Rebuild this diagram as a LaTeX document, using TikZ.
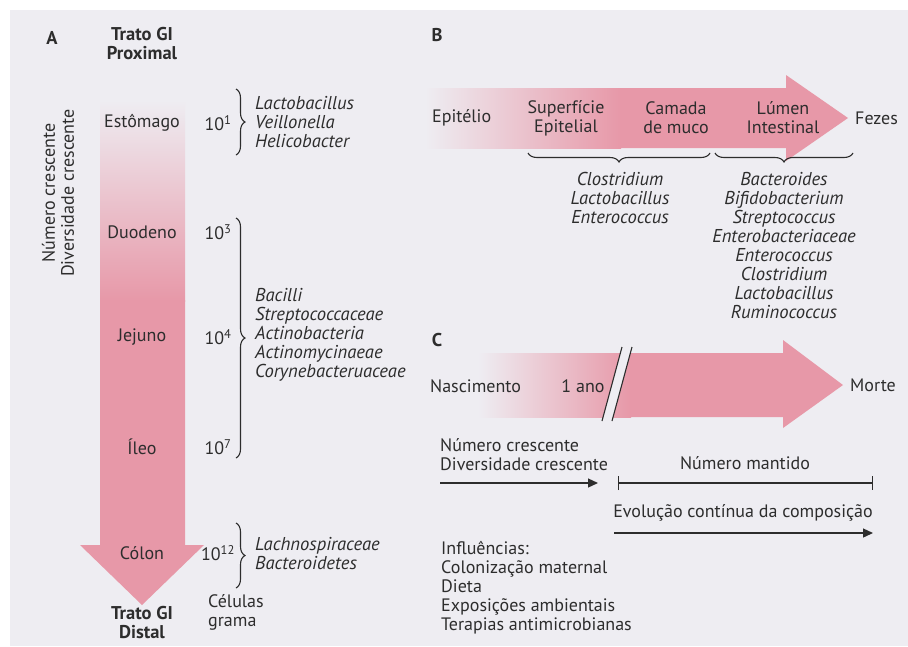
\documentclass[tikz,border=0pt]{standalone}
\usepackage{fontspec}
\setmainfont{PT Sans}
\usetikzlibrary{decorations.pathreplacing,arrows.meta,positioning}
\definecolor{pagebg}{RGB}{238,237,242}
\definecolor{gutpink}{RGB}{231,152,168}
\definecolor{inkgrey}{RGB}{45,45,45}
\tikzset{
	txt/.style={text=inkgrey, inner sep=0pt, font=\fontsize{18}{19}\selectfont},
	taxa/.style={txt, font=\fontsize{18.6}{19}\selectfont\itshape},
	head/.style={txt, font=\fontsize{18.5}{19}\selectfont\bfseries},
	brc/.style={draw=inkgrey, line width=1.1pt, decorate, decoration={brace, amplitude=9pt}},
	rule/.style={draw=inkgrey, line width=1.3pt}
}
\begin{document}
\begin{tikzpicture}[x=1pt, y=-1pt]
	\useasboundingbox (0,0) rectangle (908,646);
	\fill[white] (0,0) rectangle (908,646);
	\fill[pagebg] (10,10) rectangle (908,646);
	% A: gut tract arrow
	\shade[top color=pagebg, bottom color=gutpink] (100,100) rectangle (185,301);
	\fill[gutpink] (100,300) -- (100,545) -- (80,545) -- (142,605) -- (204,545) -- (185,545) -- (185,300) -- cycle;
	\node[head] (labA) at (52,38) {A};
	\node[head, align=center] (prox) at (142,44) {Trato GI\\Proximal};
	\node[txt, rotate=90, align=center] (trend) at (58,193) {Número crescente\\Diversidade crescente};
	\node[txt] (estomago) at (142,123) {Estômago};
	\node[txt] (duodeno) at (142,232) {Duodeno};
	\node[txt] (jejuno) at (142,337) {Jejuno};
	\node[txt] (ileo) at (142,447) {Íleo};
	\node[txt] (colon) at (142,553) {Cólon};
	\node[head, align=center] (dist) at (142,623) {Trato GI\\Distal};
	\node[txt] (n1) at (218,123) {10\textsuperscript{1}};
	\node[txt] (n3) at (218,232) {10\textsuperscript{3}};
	\node[txt] (n4) at (218,337) {10\textsuperscript{4}};
	\node[txt] (n7) at (218,447) {10\textsuperscript{7}};
	\node[txt] (n12) at (218,553) {10\textsuperscript{12}};
	\node[txt, align=left, anchor=west] (cells) at (208,612) {Células\\grama};
	\coordinate (b1t) at (236,89);
	\coordinate (b1b) at (236,155);
	\coordinate (b2t) at (236,218);
	\coordinate (b2b) at (236,458);
	\coordinate (b3t) at (236,523);
	\coordinate (b3b) at (236,588);
	\draw[brc] (b1t) -- (b1b);
	\draw[brc] (b2t) -- (b2b);
	\draw[brc] (b3t) -- (b3b);
	\node[taxa, align=left, anchor=west] (stomtaxa) at (255,122) {Lactobacillus\\Veillonella\\Helicobacter};
	\node[taxa, align=left, anchor=west] (smalltaxa) at (255,335) {Bacilli\\Streptococcaceae\\Actinobacteria\\Actinomycinaeae\\Corynebacteruaceae};
	\node[taxa, align=left, anchor=west] (colontaxa) at (255,554) {Lachnospiraceae\\Bacteroidetes};
	% B: epithelium to feces
	\shade[left color=pagebg, right color=gutpink] (425,88) rectangle (621,148);
	\fill[gutpink] (620,88) -- (786,88) -- (786,75) -- (848,118) -- (786,161) -- (786,148) -- (620,148) -- cycle;
	\node[head] (labB) at (437,35) {B};
	\node[txt, anchor=west] (epit) at (432,118) {Epitélio};
	\node[txt, align=center] (surf) at (566,118) {Superfície\\Epitelial};
	\node[txt, align=center] (muco) at (676,118) {Camada\\de muco};
	\node[txt, align=center] (lumen) at (783,118) {Lúmen\\Intestinal};
	\node[txt, anchor=west] (fezes) at (855,118) {Fezes};
	\coordinate (bb1l) at (528,153);
	\coordinate (bb1r) at (710,153);
	\coordinate (bb2l) at (715,153);
	\coordinate (bb2r) at (853,153);
	\draw[brc] (bb1r) -- (bb1l);
	\draw[brc] (bb2r) -- (bb2l);
	\node[taxa, align=center, anchor=north] (mucotaxa) at (620,172) {Clostridium\\Lactobacillus\\Enterococcus};
	\node[taxa, align=center, anchor=north] (lumentaxa) at (784,172) {Bacteroides\\Bifidobacterium\\Streptococcus\\Enterobacteriaceae\\Enterococcus\\Clostridium\\Lactobacillus\\Ruminococcus};
	% C: birth to death
	\shade[left color=pagebg, right color=gutpink] (478,353) rectangle (631,417);
	\fill[gutpink] (630,353) -- (783,353) -- (783,340) -- (843,385) -- (783,428) -- (783,417) -- (630,417) -- cycle;
	\fill[pagebg] (602,421) -- (622,347) -- (632,347) -- (612,421) -- cycle;
	\draw[inkgrey, line width=1.1pt] (602,421) -- (622,347) (612,421) -- (632,347);
	\node[head] (labC) at (437,340) {C};
	\node[txt, anchor=west] (nasc) at (430,386) {Nascimento};
	\node[txt] (ano) at (583,386) {1 ano};
	\node[txt, anchor=west] (morte) at (850,385) {Morte};
	\node[txt, align=left, anchor=west] (growth) at (440,455) {Número crescente\\Diversidade crescente};
	\coordinate (g0) at (440,483);
	\coordinate (g1) at (598,483);
	\draw[rule, -{Triangle[length=10pt, width=9pt]}] (g0) -- (g1);
	\node[txt] (kept) at (745,463) {Número mantido};
	\coordinate (k0) at (618,483);
	\coordinate (k1) at (873,483);
	\draw[rule, {Bar[width=14pt]}-{Bar[width=14pt]}] (k0) -- (k1);
	\node[txt] (evol) at (743,513) {Evolução contínua da composição};
	\coordinate (e0) at (614,533);
	\coordinate (e1) at (873,533);
	\draw[rule, -{Triangle[length=10pt, width=9pt]}] (e0) -- (e1);
	\node[txt, align=left, anchor=west] (influ) at (441,588) {Influências:\\Colonização maternal\\Dieta\\Exposições ambientais\\Terapias antimicrobianas};
\end{tikzpicture}
\end{document}
